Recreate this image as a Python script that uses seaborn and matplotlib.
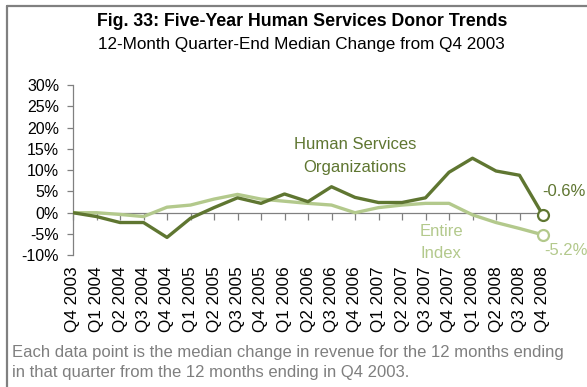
import matplotlib
matplotlib.use("Agg")
import matplotlib.pyplot as plt
from matplotlib.lines import Line2D
from matplotlib.ticker import FuncFormatter
import pandas as pd
import seaborn as sns

# Quarter-end data, median % change from Q4 2003
quarters = [
    "Q4 2003",
    "Q1 2004", "Q2 2004", "Q3 2004", "Q4 2004",
    "Q1 2005", "Q2 2005", "Q3 2005", "Q4 2005",
    "Q1 2006", "Q2 2006", "Q3 2006", "Q4 2006",
    "Q1 2007", "Q2 2007", "Q3 2007", "Q4 2007",
    "Q1 2008", "Q2 2008", "Q3 2008", "Q4 2008",
]
human_services = [0.0, -0.9, -2.3, -2.3, -5.8, -1.3, 1.2, 3.5, 2.2, 4.4, 2.6,
                  6.1, 3.6, 2.4, 2.4, 3.5, 9.5, 12.8, 9.8, 8.8, -0.6]
entire_index = [0.0, 0.0, -0.4, -0.9, 1.3, 1.8, 3.2, 4.3, 3.2, 2.7, 2.2,
                1.8, 0.0, 1.2, 1.8, 2.2, 2.2, -0.5, -2.3, -3.7, -5.2]
series_names = ["Entire Index", "Human Services Organizations"]
y_ticks = [-10, -5, 0, 5, 10, 15, 20, 25, 30]

DARK = "#5F7631"
LIGHT = "#B3C98C"
GREY = "#808080"

sns.set_style("white")
plt.rcParams["font.family"] = ["Liberation Sans", "DejaVu Sans"]

df = pd.DataFrame({
    "pos": list(range(len(quarters))) * 2,
    "quarter": quarters * 2,
    "value": entire_index + human_services,
    "series": [series_names[0]] * len(quarters) + [series_names[1]] * len(quarters),
})
palette = {series_names[0]: LIGHT, series_names[1]: DARK}

fig = plt.figure(figsize=(5.87, 3.87), dpi=100)
ax = fig.add_axes([73 / 587, 1 - 255.3 / 387, 470 / 587, 170.3 / 387])

sns.lineplot(data=df, x="pos", y="value", hue="series", hue_order=series_names,
             palette=palette, linewidth=2.4, legend=False, ax=ax, zorder=3)

# Open circles on the latest quarter
last = df[df["pos"] == len(quarters) - 1]
for name in series_names:
    row = last[last["series"] == name]
    sns.scatterplot(data=row, x="pos", y="value", s=62, color="white",
                    edgecolor=palette[name], linewidth=1.6, ax=ax, zorder=4,
                    legend=False, clip_on=False)

ax.set_xlim(0, len(quarters) - 1)
ax.set_ylim(y_ticks[0], y_ticks[-1])
ax.set_xlabel("")
ax.set_ylabel("")

for s in ("top", "right"):
    ax.spines[s].set_visible(False)
ax.spines["left"].set_color(GREY)
ax.spines["left"].set_linewidth(0.9)
ax.spines["bottom"].set_position(("data", 0))
ax.spines["bottom"].set_color(GREY)
ax.spines["bottom"].set_linewidth(0.9)

ax.set_yticks(y_ticks)
ax.yaxis.set_major_formatter(FuncFormatter(lambda v, _: f"{v:.0f}%"))
ax.tick_params(axis="y", direction="out", length=4, width=0.9, color=GREY,
               labelsize=11.5, labelcolor="black", pad=6, left=True)
ax.set_xticks(range(len(quarters)))
ax.tick_params(axis="x", direction="out", length=5, width=0.9, color=GREY,
               labelbottom=False, bottom=True)

# Category labels along the bottom of the plot area
sec = ax.secondary_xaxis("bottom")
sec.set_xticks(range(len(quarters)), quarters, rotation=90)
sec.tick_params(length=0, pad=8, labelsize=12.3, labelcolor="black")
sec.spines["bottom"].set_visible(False)

# Series labels and end values
ax.text(12, 13.3, "Human Services\nOrganizations", color=DARK, fontsize=12,
        ha="center", va="center", linespacing=1.62)
ax.text(15.66, -7.0, "Entire\nIndex", color=LIGHT, fontsize=12,
        ha="center", va="center", linespacing=1.62)
ax.annotate(f"{human_services[-1]:.1f}%", (len(quarters) - 1, human_services[-1]),
            xytext=(-0.5, 17), textcoords="offset points", color=DARK,
            fontsize=12, ha="left", va="center", annotation_clip=False)
ax.annotate(f"{entire_index[-1]:.1f}%", (len(quarters) - 1, entire_index[-1]),
            xytext=(1, -11), textcoords="offset points", color=LIGHT,
            fontsize=12, ha="left", va="center", annotation_clip=False)

# Titles
fig.text(0.515, 1 - 21 / 387, "Fig. 33: Five-Year Human Services Donor Trends",
         ha="center", va="center", fontsize=12.8, fontweight="bold", color="black")
fig.text(0.514, 1 - 44.5 / 387, "12-Month Quarter-End Median Change from Q4 2003",
         ha="center", va="center", fontsize=12.3, color="black")

# Footnote
fig.text(12 / 587, 1 - 352 / 387,
         "Each data point is the median change in revenue for the 12 months ending",
         ha="left", va="center", fontsize=12, color="#7F7F7F")
fig.text(12 / 587, 1 - 373 / 387,
         "in that quarter from the 12 months ending in Q4 2003.",
         ha="left", va="center", fontsize=12, color="#7F7F7F")

# Frame lines along the top and left edge
fig.add_artist(Line2D([7 / 587, 7 / 587], [0, 1 - 6 / 387], transform=fig.transFigure,
                      color=GREY, linewidth=1.6))
fig.add_artist(Line2D([7 / 587, 1], [1 - 6 / 387, 1 - 6 / 387], transform=fig.transFigure,
                      color=GREY, linewidth=1.6))

fig.savefig("out.png", dpi=100)
